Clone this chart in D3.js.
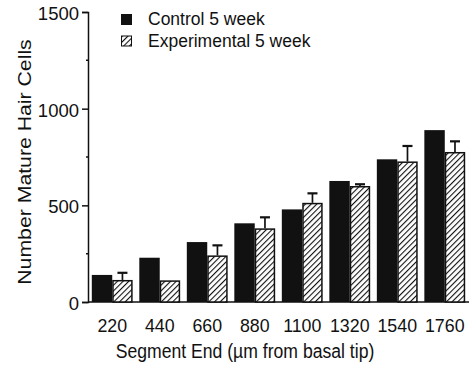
<!DOCTYPE html>
<html>
<head>
<meta charset="utf-8">
<script src="https://cdn.jsdelivr.net/npm/d3@7"></script>
<style>
  body { margin: 0; background: #fff; }
  text { font-family: "Liberation Sans", Arial, sans-serif; fill: #111; }
</style>
</head>
<body>
<div id="chart"></div>
<script>
// chart values
var segments = ["220", "440", "660", "880", "1100", "1320", "1540", "1760"];
var controlValues = [140, 229, 310, 407, 479, 626, 738, 889];
var experimentalValues = [114, 112, 241, 381, 513, 600, 727, 776];
var experimentalErrors = [37, 0, 52, 57, 49, 9, 80, 55];
var yTicks = [0, 500, 1000, 1500];
var yMinorTicks = [250, 750, 1250];
var seriesNames = ["Control 5 week", "Experimental 5 week"];

var svgWidth = 469;
var svgHeight = 367;

var margin = { top: 12, right: 0, bottom: 65, left: 88 };
var height = svgHeight - margin.top - margin.bottom;

var svg = d3.select("#chart")
  .append("svg")
  .attr("width", svgWidth)
  .attr("height", svgHeight);

// hatch pattern for the experimental bars
var pattern = svg.append("defs").append("pattern")
  .attr("id", "hatch")
  .attr("patternUnits", "userSpaceOnUse")
  .attr("width", 4)
  .attr("height", 4)
  .attr("patternTransform", "rotate(45)");
pattern.append("rect").attr("width", 4).attr("height", 4).attr("fill", "#fff");
pattern.append("line")
  .attr("x1", 0).attr("y1", 0).attr("x2", 0).attr("y2", 4)
  .attr("stroke", "#111").attr("stroke-width", 2.2);

var chartGroup = svg.append("g")
  .attr("transform", `translate(${margin.left}, ${margin.top})`);

var x0 = d3.scaleBand()
  .domain(segments)
  .range([0, 381])
  .paddingInner(0.14)
  .paddingOuter(0.08);

var x1 = d3.scaleBand()
  .domain(["control", "experimental"])
  .range([0, x0.bandwidth()]);

var y = d3.scaleLinear()
  .domain([0, 1500])
  .range([height, 0]);

// y axis
var leftAxis = d3.axisLeft(y)
  .tickValues(yTicks)
  .tickFormat(d3.format("d"))
  .tickSize(6)
  .tickPadding(3);
var yAxis = chartGroup.append("g").call(leftAxis);
yAxis.select(".domain").attr("stroke", "#111").attr("stroke-width", 1.5);
yAxis.selectAll(".tick line").attr("stroke", "#111").attr("stroke-width", 1.5);
yAxis.selectAll(".tick text")
  .attr("font-size", "18.5px")
  .attr("fill", "#111")
  .attr("dy", "0.4em")
  .attr("font-family", "Liberation Sans, Arial, sans-serif");

chartGroup.append("g").selectAll("line")
  .data(yMinorTicks)
  .enter()
  .append("line")
  .attr("x1", -2).attr("x2", 0)
  .attr("y1", d => y(d)).attr("y2", d => y(d))
  .attr("stroke", "#111").attr("stroke-width", 1.5);

// x axis line + labels
chartGroup.append("line")
  .attr("x1", 0).attr("x2", 381)
  .attr("y1", height).attr("y2", height)
  .attr("stroke", "#111").attr("stroke-width", 1.5);

chartGroup.append("g").selectAll("text")
  .data(segments)
  .enter()
  .append("text")
  .attr("x", d => x0(d) + x0.bandwidth() / 2)
  .attr("y", height + 30)
  .attr("text-anchor", "middle")
  .attr("font-size", "17.8px")
  .text(d => d);

// bars
var groups = chartGroup.selectAll(".group")
  .data(segments)
  .enter()
  .append("g")
  .attr("transform", d => `translate(${x0(d)}, 0)`);

groups.append("rect")
  .attr("x", x1("control"))
  .attr("width", x1.bandwidth())
  .attr("y", (d, i) => y(controlValues[i]))
  .attr("height", (d, i) => height - y(controlValues[i]))
  .attr("fill", "#111");

// error bars (drawn behind the hatched bar)
groups.filter((d, i) => experimentalErrors[i] > 0).each(function(d) {
  var i = segments.indexOf(d);
  var cx = x1("experimental") + x1.bandwidth() / 2;
  var top = y(experimentalValues[i] + experimentalErrors[i]);
  d3.select(this).append("line")
    .attr("x1", cx).attr("x2", cx)
    .attr("y1", y(experimentalValues[i])).attr("y2", top)
    .attr("stroke", "#111").attr("stroke-width", 1.7);
  d3.select(this).append("line")
    .attr("x1", cx - 5).attr("x2", cx + 5)
    .attr("y1", top).attr("y2", top)
    .attr("stroke", "#111").attr("stroke-width", 2.2);
});

groups.append("rect")
  .attr("x", x1("experimental") + 0.75)
  .attr("width", x1.bandwidth() - 1.5)
  .attr("y", (d, i) => y(experimentalValues[i]) + 0.75)
  .attr("height", (d, i) => height - y(experimentalValues[i]) - 0.75)
  .attr("fill", "url(#hatch)")
  .attr("stroke", "#111")
  .attr("stroke-width", 1.5);

// legend
var legend = svg.append("g").attr("transform", "translate(121, 14)");
legend.append("rect").attr("x", 0).attr("y", 0).attr("width", 11).attr("height", 11).attr("fill", "#111");
legend.append("rect").attr("x", 0.5).attr("y", 22).attr("width", 10).attr("height", 10)
  .attr("fill", "url(#hatch)").attr("stroke", "#111").attr("stroke-width", 1);
legend.selectAll("text")
  .data(seriesNames)
  .enter()
  .append("text")
  .attr("x", 27)
  .attr("y", (d, i) => 11 + i * 21.7)
  .attr("font-size", "17.5px")
  .text(d => d);

// axis titles (the scan is a little taller than wide, so stretch along y)
svg.append("text")
  .attr("transform", "translate(31, 162) rotate(-90) scale(1.2, 1)")
  .attr("text-anchor", "middle")
  .attr("font-size", "17.7px")
  .text("Number Mature Hair Cells");

svg.append("text")
  .attr("transform", "translate(245, 358) scale(1, 1.1)")
  .attr("text-anchor", "middle")
  .attr("font-size", "17.6px")
  .text("Segment End (\u00b5m from basal tip)");
</script>
</body>
</html>
